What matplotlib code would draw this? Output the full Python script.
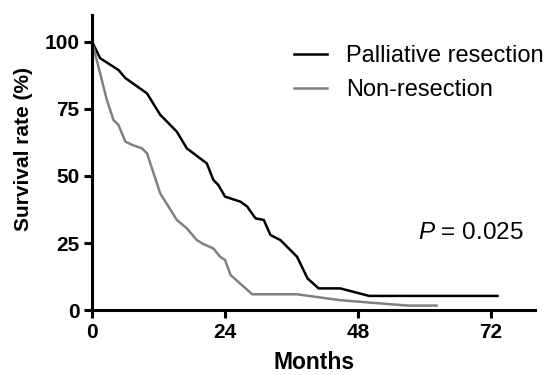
import matplotlib
matplotlib.use("Agg")
import matplotlib.pyplot as plt

plt.rcParams['font.family'] = ['Liberation Sans', 'DejaVu Sans']
plt.rcParams['mathtext.fontset'] = 'custom'
plt.rcParams['mathtext.it'] = 'Liberation Sans:italic'
plt.rcParams['mathtext.rm'] = 'Liberation Sans'

# Palliative resection
pal_months = [0, 1.45, 4.76, 6, 9.9, 12.3, 15.3, 17.1, 20.7, 21.9, 22.8, 24, 26.8, 28, 29.5,
              31, 32.2, 34, 37, 38.9, 40.9, 44.8, 50, 73.2]
pal_surv = [100, 93.9, 89.5, 86.5, 80.8, 72.8, 66.5, 60.3, 54.7, 48.5, 46.6, 42.3, 40.4, 38.6, 34.2,
            33.6, 28, 26.1, 19.9, 11.8, 8.1, 8.1, 5.3, 5.3]
# Non-resection
non_months = [0, 1.75, 2.65, 3.85, 4.76, 6, 7.2, 9, 9.9, 12.3, 15.3, 17.1, 18.9, 20.1, 21.9,
              23.1, 24, 25, 28.9, 37, 44.8, 56.9, 62.2]
non_surv = [100, 85.8, 78.4, 70.9, 69, 62.8, 61.6, 60.3, 58.5, 43.5, 33.6, 30.5, 26.1, 24.6, 23,
            19.9, 18.7, 13.1, 5.9, 5.9, 3.7, 1.7, 1.7]

xticks = [0, 24, 48, 72]
yticks = [0, 25, 50, 75, 100]

fig = plt.figure(figsize=(5.45, 3.75), dpi=100)
ax = fig.add_axes([0.169, 0.173, 0.813, 0.787])

ax.plot(pal_months, pal_surv, color='black', lw=1.8, label='Palliative resection', solid_joinstyle='round')
ax.plot(non_months, non_surv, color='#808080', lw=1.8, label='Non-resection', solid_joinstyle='round')

ax.set_xlim(0, 80)
ax.set_ylim(0, 110)
ax.set_xticks(xticks)
ax.set_yticks(yticks)
ax.set_xticklabels([str(t) for t in xticks], fontweight='bold', fontsize=15)
ax.set_yticklabels([str(t) for t in yticks], fontweight='bold', fontsize=15)
for s in ['top', 'right']:
    ax.spines[s].set_visible(False)
for s in ['left', 'bottom']:
    ax.spines[s].set_linewidth(2.2)
ax.tick_params(width=2.2, length=6, direction='out', pad=3)

ax.set_xlabel('Months', fontweight='bold', fontsize=16.5)
ax.xaxis.set_label_coords(0.5, -0.138)
ax.set_ylabel('Survival rate (%)', fontweight='bold', fontsize=15)
ax.yaxis.set_label_coords(-0.133, 0.547)

leg = ax.legend(loc='upper left', bbox_to_anchor=(294 / 545, 1 - 45 / 375),
                bbox_transform=fig.transFigure, frameon=False, fontsize=17,
                handlelength=1.4, handletextpad=0.8, labelspacing=0.5,
                borderpad=0, borderaxespad=0)

ax.text(418 / 545, 1 - 239 / 375, r'$\mathit{P}$ = 0.025', transform=fig.transFigure,
        fontsize=17.5, ha='left', va='baseline')

fig.savefig('out.png', dpi=100)
